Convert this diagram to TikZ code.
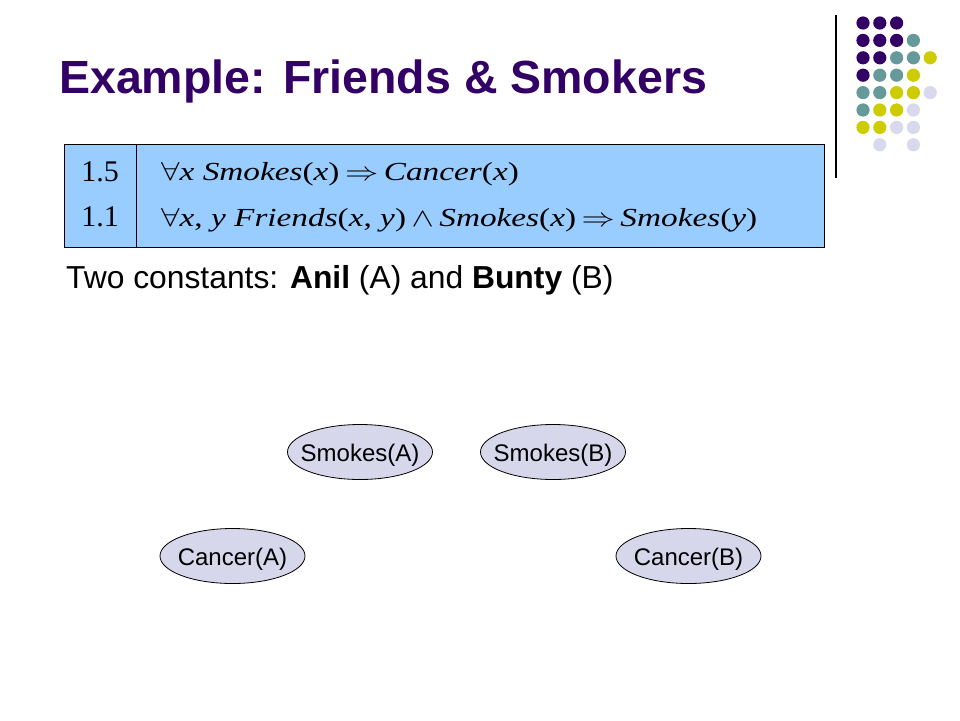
\RequirePackage{fix-cm}
\documentclass[tikz,border=0pt]{standalone}
\usepackage{fontspec}
\setmainfont{Liberation Sans}
\newfontfamily\serif{Liberation Serif}
\usetikzlibrary{shapes.geometric}
\definecolor{dpurple}{HTML}{330066}
\definecolor{dteal}{HTML}{669999}
\definecolor{dyellow}{HTML}{CCCC00}
\definecolor{dlav}{HTML}{D9D9EE}
\definecolor{boxblue}{HTML}{99CCFF}
\definecolor{elfill}{HTML}{D7D7EC}
\newcommand{\zw}[1]{\makebox[0pt]{\rule{0pt}{24pt}#1}}
\newcommand{\wide}[1]{\scalebox{1.28}[1]{#1}}
\tikzset{
  dotp/.style={fill=dpurple},
  dott/.style={fill=dteal},
  doty/.style={fill=dyellow},
  dotl/.style={fill=dlav},
  atom/.style={ellipse, draw=black, line width=0.8pt, fill=elfill, minimum width=145pt, minimum height=55pt, inner sep=0pt, font=\fontsize{24}{26}\selectfont},
  weight/.style={anchor=base, font=\serif\fontsize{30}{32}\selectfont, inner sep=0pt},
  formula/.style={anchor=base west, font=\serif\fontsize{26}{28}\selectfont, inner sep=0pt}
}
\begin{document}
\begin{tikzpicture}[x=1pt,y=-1pt]
\useasboundingbox (0,0) rectangle (960,720);
\fill[white] (0,0) rectangle (960,720);
% decorative dots
\foreach \c/\r/\s in {0/0/dotp,1/0/dotp,2/0/dotp,
  0/1/dotp,1/1/dotp,2/1/dotp,3/1/dott,
  0/2/dotp,1/2/dotp,2/2/dott,3/2/dott,4/2/doty,
  0/3/dotp,1/3/dott,2/3/dott,3/3/doty,
  0/4/dott,1/4/dott,2/4/doty,3/4/doty,4/4/dotl,
  0/5/dott,1/5/doty,2/5/doty,3/5/dotl,
  0/6/doty,1/6/doty,2/6/dotl,3/6/dotl,
  1/7/dotl,3/7/dotl}
  \fill[\s] ({863+16.8*\c},{23+17.4*\r}) circle (6.6);
\draw[line width=1.3pt] (836,15) -- (836,178);
% title
\node[anchor=base west, inner sep=0pt, text=dpurple, font=\bfseries\fontsize{46.5}{50}\selectfont] (title) at (59,93) {Example: Friends \& Smokers};
% formula box
\node[draw=black, line width=1pt, fill=boxblue, minimum width=760pt, minimum height=103pt, inner sep=0pt, anchor=north west] (box) at (64,144) {};
\draw[line width=1pt] (136,144) -- (136,247);
\node[weight] (w1) at (100,181) {1.5};
\node[weight] (w2) at (100,226) {1.1};
\node[formula] (f1) at (161,180) {\wide{$\forall$\textit{x Smokes}(\textit{x})\,$\Rightarrow$\,\textit{Cancer}(\textit{x})}};
\node[formula] (f2) at (161,226) {\wide{$\forall$\textit{x}, \textit{y Friends}(\textit{x}, \textit{y})\,$\wedge$\,\textit{Smokes}(\textit{x})\,$\Rightarrow$\,\textit{Smokes}(\textit{y})}};
% constants line
\node[anchor=base west, inner sep=0pt, font=\fontsize{31.8}{34}\selectfont] (consts) at (66,288) {Two constants: \textbf{Anil} (A) and \textbf{Bunty} (B)};
% atoms
\node[atom] (sa) at (360,452) {\zw{Smokes(A)}};
\node[atom] (sb) at (553,452) {\zw{Smokes(B)}};
\node[atom] (ca) at (232.5,556) {\zw{Cancer(A)}};
\node[atom] (cb) at (688.5,556) {\zw{Cancer(B)}};
\end{tikzpicture}
\end{document}
